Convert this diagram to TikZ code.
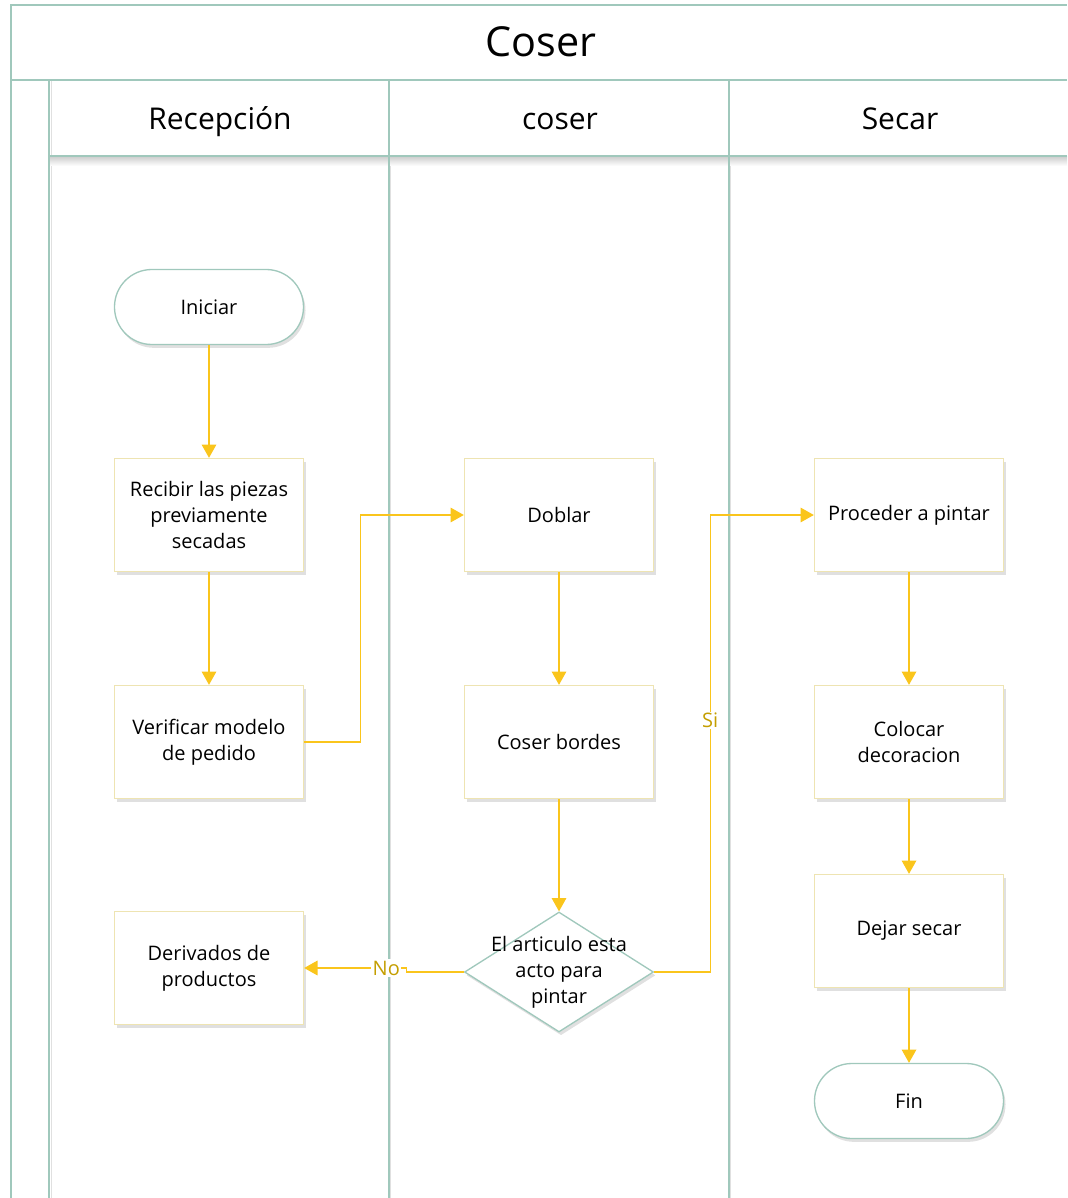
\documentclass[tikz,border=0pt]{standalone}
\usepackage{fontspec}
\setmainfont{Open Sans}
\usetikzlibrary{arrows.meta,shapes.geometric,shadows}

\definecolor{laneline}{RGB}{160,200,188}
\definecolor{boxline}{RGB}{238,228,178}
\definecolor{flowline}{RGB}{250,197,28}
\definecolor{flowtext}{RGB}{196,158,0}

\tikzset{every picture/.style={line width=0.75pt}}

\begin{document}
\begin{tikzpicture}[x=0.75pt,y=0.75pt,yscale=-1,xscale=1,
  lane/.style={draw=laneline, line width=1.2pt},
  lanetitle/.style={anchor=base, font=\fontsize{22.5}{26}\selectfont},
  procbox/.style={draw=boxline, line width=1pt, fill=white, align=center,
    minimum width=141.75pt, minimum height=84.75pt, inner sep=0pt,
    font=\fontsize{15}{19.5}\selectfont,
    drop shadow={shadow xshift=1.5pt, shadow yshift=-2.5pt, opacity=0.12, fill=black}},
  termbox/.style={procbox, draw=laneline, rounded corners=28pt, minimum height=56.25pt},
  decision/.style={diamond, draw=laneline, line width=1pt, fill=white, inner sep=0pt,
    minimum width=141.75pt, minimum height=90pt,
    drop shadow={shadow xshift=1.5pt, shadow yshift=-2.5pt, opacity=0.12, fill=black}},
  flow/.style={draw=flowline, line width=0.9pt, -{Triangle[length=10pt,width=11pt]}},
  flowlbl/.style={fill=white, text=flowtext, inner sep=1pt, font=\fontsize{15}{17}\selectfont}]
\useasboundingbox (0,0) rectangle (1067,1198);

% pool and lanes
\fill[black!12] (51,81) -- (51,1198) -- (52,1198) -- (52,81) -- cycle;
\foreach \x in {389,729} {
  \fill[black!12] (\x+1.2,156) rectangle (\x+2.4,1198);
}
\shade[top color=black!18, bottom color=white] (49,157) rectangle (1067,166);
\draw[lane] (11,1198) -- (11,5) -- (1067,5);
\draw[lane] (11,80) -- (1067,80);
\draw[lane] (49,156) -- (1067,156);
\foreach \x in {49,389,729} {
  \draw[lane] (\x,80) -- (\x,1198);
}

% Text Node
\node[anchor=base, font=\fontsize{31}{34}\selectfont] (pool) at (541,57) {Coser};
\node[lanetitle] (recep) at (220,130) {Recepción};
\node[lanetitle] (cos) at (560,130) {coser};
\node[lanetitle] (sec) at (900,130) {Secar};

% Shapes
\node[termbox] (ini) at (209,307) {Iniciar};
\node[procbox] (recib) at (209,515) {Recibir las piezas\\previamente\\secadas};
\node[procbox] (verif) at (209,742) {Verificar modelo\\de pedido};
\node[procbox] (deriv) at (209,968) {Derivados de\\productos};
\node[procbox] (dobl) at (559,515) {Doblar};
\node[procbox] (bord) at (559,742) {Coser bordes};
\node[decision, label={[align=center, font=\fontsize{15}{19.5}\selectfont]center:El articulo esta\\acto para\\pintar}] (chk) at (559,972) {};
\node[procbox] (pint) at (909,515) {Proceder a pintar};
\node[procbox] (decor) at (909,742) {Colocar\\decoracion};
\node[procbox] (dejar) at (909,931) {Dejar secar};
\node[termbox] (fin) at (909,1101) {Fin};

% Connectors
\draw[flow] (ini) -- (recib);
\draw[flow] (recib) -- (verif);
\draw[flow] (verif.east) -- ++(56,0) |- (dobl.west);
\draw[flow] (dobl) -- (bord);
\draw[flow] (bord) -- (chk);
\draw[flow] (chk.west) -- ++(-57,0) |- (deriv.east) node[flowlbl, pos=0.6] {No};
\draw[flow] (chk.east) -- ++(56,0) |- (pint.west) node[flowlbl, pos=0.275] {Si};
\draw[flow] (pint) -- (decor);
\draw[flow] (decor) -- (dejar);
\draw[flow] (dejar) -- (fin);

\end{tikzpicture}
\end{document}
